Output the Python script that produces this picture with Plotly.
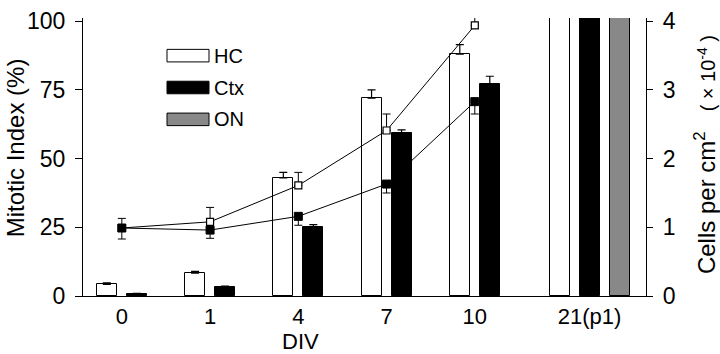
import plotly.graph_objects as go

# ---------------- data ----------------
div_labels = ["0", "1", "4", "7", "10", "21(p1)"]

# Mitotic index bars (%)
hc_mi = [4.2, 8.3, 43.0, 72.0, 88.0, 105.0]
hc_mi_err = [0.6, 0.7, 2.0, 3.0, 3.5, 0.0]
ctx_mi = [0.7, 3.3, 25.0, 59.5, 77.0, 105.0]
ctx_mi_err = [0.3, 0.3, 1.0, 1.0, 3.0, 0.0]
on_mi = [None, None, None, None, None, 105.0]

# Cell density lines (cells per cm^2, x10^-4)
line_labels = ["0", "1", "4", "7", "10"]
hc_cells = [0.99, 1.08, 1.61, 2.41, 3.94]
hc_cells_err = [0.14, 0.21, 0.19, 0.24, 0.17]
ctx_cells = [0.99, 0.96, 1.16, 1.63, 2.83]
ctx_cells_err = [0.16, 0.12, 0.13, 0.13, 0.18]

# ---------------- layout helpers ----------------
W, H = 720, 354
L, R, T, B = 83, 74, 8, 58
group_pos = [0, 1, 2, 3, 4, 5.3]          # category positions on x axis
pos_of = dict(zip(div_labels, group_pos))
bar_w = 0.227
step = 0.34
FONT = "Liberation Sans, Arial, Helvetica, sans-serif"

series = [("HC", hc_mi, hc_mi_err, "white"),
          ("Ctx", ctx_mi, ctx_mi_err, "black"),
          ("ON", on_mi, None, "#888888")]

# offsets: bars present in each group are centred on the group position
offsets = {name: [] for name, *_ in series}
for i in range(len(div_labels)):
    present = [name for name, vals, _, _ in series if vals[i] is not None]
    n = len(present)
    for name, vals, _, _ in series:
        if name in present:
            k = present.index(name)
            centre = (k - (n - 1) / 2) * step
            offsets[name].append(centre - bar_w / 2)
        else:
            offsets[name].append(0)

fig = go.Figure()
for name, vals, err, col in series:
    kw = {}
    if err is not None:
        kw["error_y"] = dict(type="data", symmetric=False, array=err,
                             arrayminus=[0] * len(err), color="black",
                             thickness=1.2, width=4)
    fig.add_trace(go.Bar(
        x=group_pos, y=vals, name=name, width=bar_w, offset=offsets[name],
        marker=dict(color=col, line=dict(color="black", width=1)),
        showlegend=False, yaxis="y", **kw))

lx = [pos_of[c] for c in line_labels]
fig.add_trace(go.Scatter(
    x=lx, y=hc_cells, yaxis="y2", mode="lines+markers", showlegend=False,
    line=dict(color="black", width=1),
    marker=dict(symbol="square", size=7, color="white",
                line=dict(color="black", width=1.2)),
    error_y=dict(type="data", symmetric=False, array=hc_cells_err,
                 arrayminus=[0] * 5, color="black", thickness=1, width=4)))
fig.add_trace(go.Scatter(
    x=lx, y=ctx_cells, yaxis="y2", mode="lines+markers", showlegend=False,
    line=dict(color="black", width=1),
    marker=dict(symbol="square", size=8, color="black",
                line=dict(color="black", width=1)),
    error_y=dict(type="data", symmetric=False, array=[0] * 5,
                 arrayminus=ctx_cells_err, color="black", thickness=1, width=4)))

plot_w = W - L - R
plot_h = H - T - B
def px(xp):
    return (xp - L) / plot_w
def py(yp):
    return (H - B - yp) / plot_h

# legend drawn as boxes + labels
shapes = []
annotations = []
for (name, _, _, col), yc in zip(series, [47, 80, 113]):
    shapes.append(dict(type="rect", xref="paper", yref="paper",
                       x0=px(167), x1=px(209), y0=py(yc + 6.5), y1=py(yc - 6.5),
                       fillcolor=col, line=dict(color="black", width=1)))
    annotations.append(dict(text=name, xref="paper", yref="paper",
                            x=px(212), y=py(yc), xanchor="left", yanchor="middle",
                            showarrow=False, font=dict(size=20, family=FONT, color="black")))

annotations.append(dict(text="DIV", xref="paper", yref="paper", x=px(300), y=py(343),
                        xanchor="center", yanchor="middle", showarrow=False,
                        font=dict(size=22, family=FONT, color="black")))
annotations.append(dict(text="Mitotic Index (%)", xref="paper", yref="paper",
                        x=px(15), y=py(143), xanchor="center", yanchor="middle",
                        textangle=-90, showarrow=False,
                        font=dict(size=24, family=FONT, color="black")))
annotations.append(dict(
    text=("Cells per cm<sup>2</sup>\u00a0\u00a0\u00a0"
          "<span style='font-size:20px'>(\u00a0\u00d7\u00a010<sup>-4</sup>\u00a0)</span>"),
    xref="paper", yref="paper", x=px(705), y=py(150), xanchor="center", yanchor="middle",
    textangle=-90, showarrow=False, font=dict(size=24, family=FONT, color="black")))

ymax = 101.2
fig.update_layout(
    width=W, height=H, margin=dict(l=L, r=R, t=T, b=B),
    plot_bgcolor="white", paper_bgcolor="white",
    font=dict(family=FONT, size=23, color="black"),
    shapes=shapes, annotations=annotations, bargap=0,
    xaxis=dict(range=[-0.44, 5.94], tickmode="array", tickvals=group_pos,
               ticktext=div_labels, showgrid=False, zeroline=False,
               showline=True, linecolor="black", linewidth=1.2, ticks="",
               ticklabelstandoff=0, tickfont=dict(size=22)),
    yaxis=dict(range=[0, ymax], tickmode="array", tickvals=[0, 25, 50, 75, 100],
               showgrid=False, zeroline=False, showline=True, linecolor="black",
               linewidth=1.2, ticks="outside", ticklen=7, tickwidth=1.2,
               tickcolor="black", ticklabelstandoff=5, tickfont=dict(size=23),
               ticklabeloverflow="allow"),
    yaxis2=dict(range=[0, ymax / 25], overlaying="y", side="right",
                tickmode="array", tickvals=[0, 1, 2, 3, 4], showgrid=False,
                zeroline=False, showline=True, linecolor="black", linewidth=1.2,
                ticks="outside", ticklen=6, tickwidth=1.2, tickcolor="black",
                ticklabelstandoff=5, tickfont=dict(size=23),
                ticklabeloverflow="allow"),
)

fig.write_html("out.html")
